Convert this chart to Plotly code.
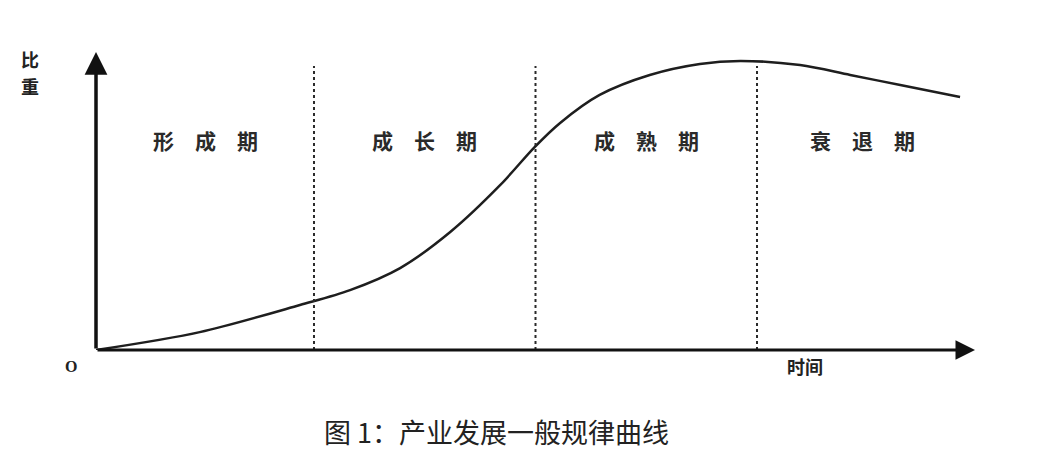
import plotly.graph_objects as go

# industry life-cycle curve (time 0-100, share 0-100)
curve_x = [0, 11.8, 23.2, 28.9, 34.6, 40.3, 46.0, 49.9, 52.8, 57.3, 63.0, 68.7, 73.3, 80.1, 85.8, 91.5, 98.3]
curve_y = [0, 6.0, 15.1, 20.1, 27.5, 39.6, 55.4, 68.1, 76.2, 85.6, 92.3, 96.0, 97.0, 95.6, 92.3, 88.9, 84.9]

stage_bounds = [24.8, 50.0, 75.2]
stage_names = ['形成期', '成长期', '成熟期', '衰退期']
stage_centers = [12.4, 37.4, 62.6, 87.2]
stage_label_y = 70.5
bound_top = 95.3

x_max = 100
y_max = 100

font_cjk = 'Noto Sans CJK SC, Noto Sans, sans-serif'

fig = go.Figure()

fig.add_trace(go.Scatter(
    x=curve_x, y=curve_y,
    mode='lines',
    line=dict(color='#1e1e1e', width=2.5, shape='spline', smoothing=0.9),
    hoverinfo='skip',
    showlegend=False
))

# dotted stage boundaries
for b in stage_bounds:
    fig.add_shape(type='line', xref='x', yref='y',
                  x0=b, x1=b, y0=0, y1=bound_top,
                  line=dict(color='#2a2a2a', width=2, dash='dot'))

# stage labels
for name, cx in zip(stage_names, stage_centers):
    fig.add_annotation(x=cx, y=stage_label_y, xref='x', yref='y',
                       text='<b>' + '\u3000'.join(name) + '</b>',
                       showarrow=False, xanchor='center', yanchor='middle',
                       font=dict(family=font_cjk, size=21, color='#2a2a2a'))

# axes with arrows
fig.add_annotation(x=x_max, y=0, ax=0, ay=0, xref='x', yref='y', axref='x', ayref='y',
                   text='', showarrow=True, arrowhead=2, arrowsize=1.3, arrowwidth=3,
                   arrowcolor='#111111', standoff=0, startstandoff=0)
fig.add_annotation(x=0, y=y_max, ax=0, ay=0, xref='x', yref='y', axref='x', ayref='y',
                   text='', showarrow=True, arrowhead=2, arrowsize=1.3, arrowwidth=3.5,
                   arrowcolor='#111111', standoff=0, startstandoff=0)

# axis titles
def label(x, y, text, size=18, family=font_cjk):
    fig.add_annotation(x=x, y=y, xref='paper', yref='paper', text=text,
                       showarrow=False, xanchor='center', yanchor='middle',
                       font=dict(family=family, size=size, color='#222222'))

label(-0.075, 0.976, '<b>比</b>')
label(-0.075, 0.886, '<b>重</b>')
label(-0.029, -0.054, '<b>O</b>', size=16, family='Liberation Serif, serif')
label(0.807, -0.054, '<b>时间</b>')

# caption
label(0.456, -0.275, '图 1：产业发展一般规律曲线', size=27)

fig.update_xaxes(visible=False, range=[0, x_max], fixedrange=True)
fig.update_yaxes(visible=False, range=[0, y_max], fixedrange=True)
fig.update_layout(
    width=1046, height=454,
    margin=dict(l=88, r=79, t=44, b=112),
    paper_bgcolor='white', plot_bgcolor='white',
    showlegend=False
)

fig.write_html('out.html')
